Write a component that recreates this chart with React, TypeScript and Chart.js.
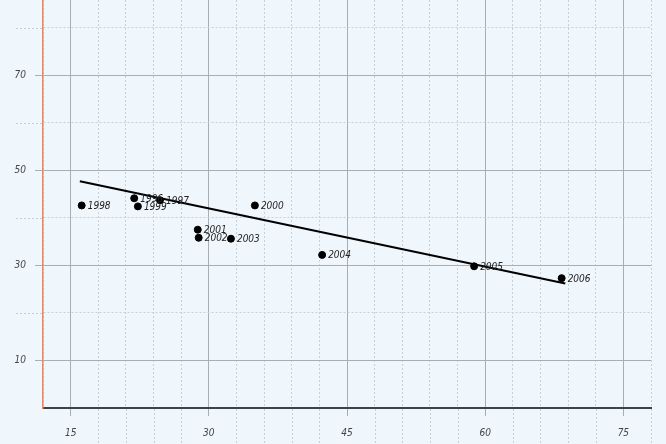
import React, { useEffect, useRef } from "react";
import { Chart, registerables } from "chart.js";

Chart.register(...registerables);

const yearLabels = ["1998", "1996", "1999", "1997", "2000", "2001", "2002", "2003", "2004", "2005", "2006"];
const xValues = [16.2, 21.9, 22.3, 24.7, 35.0, 28.8, 28.9, 32.4, 42.3, 58.8, 68.3];
const yValues = [42.6, 44.1, 42.4, 43.7, 42.6, 37.5, 35.8, 35.6, 32.2, 29.8, 27.3];
const trendX = [16.0, 68.7];
const trendY = [47.7, 26.2];
const xTickLabels = [15, 30, 45, 60, 75];
const yTickLabels = [10, 30, 50, 70];

const FONT = "'Liberation Sans Narrow', 'DejaVu Sans Condensed', sans-serif";
const MAJOR = "#a7b0b0";
const MINOR = "#c6d0d8";
const DASH = [2, 2];

export default function App() {
  const ref = useRef<HTMLCanvasElement | null>(null);

  useEffect(() => {
    document.body.style.margin = "0";
    document.body.style.background = "#eff6fc";
    const canvas = ref.current;
    if (!canvas) return;

    const bgPlugin = {
      id: "bg",
      beforeDraw(chart: any) {
        const { ctx, width, height } = chart;
        ctx.save();
        ctx.fillStyle = "#eff6fc";
        ctx.fillRect(0, 0, width, height);
        ctx.restore();
      },
    };

    const minorExtPlugin = {
      id: "minorExt",
      beforeDatasetsDraw(chart: any) {
        const { ctx, chartArea, height } = chart;
        const xs = chart.scales.x;
        const ys = chart.scales.y;
        ctx.save();
        ctx.strokeStyle = MINOR;
        ctx.lineWidth = 1;
        ctx.setLineDash(DASH);
        xs.ticks.forEach((t: any) => {
          if (xTickLabels.includes(t.value) || t.value === xs.min) return;
          const px = Math.round(xs.getPixelForValue(t.value)) + 0.5;
          ctx.beginPath();
          ctx.moveTo(px, chartArea.bottom + 1);
          ctx.lineTo(px, height);
          ctx.stroke();
        });
        ys.ticks.forEach((t: any) => {
          if (yTickLabels.includes(t.value) || t.value === 0) return;
          const py = Math.round(ys.getPixelForValue(t.value)) + 0.5;
          ctx.beginPath();
          ctx.moveTo(16, py);
          ctx.lineTo(chartArea.left - 1, py);
          ctx.stroke();
        });
        ctx.restore();
      },
    };

    const labelPlugin = {
      id: "pointLabels",
      afterDatasetsDraw(chart: any) {
        const meta = chart.getDatasetMeta(0);
        const { ctx } = chart;
        ctx.save();
        ctx.font = `italic 10px ${FONT}`;
        ctx.fillStyle = "#222";
        ctx.textAlign = "left";
        ctx.textBaseline = "middle";
        meta.data.forEach((el: any, i: number) => {
          ctx.fillText(yearLabels[i], el.x + 6, el.y + 1);
        });
        ctx.restore();
      },
    };

    const chart = new Chart(canvas, {
      type: "scatter",
      data: {
        datasets: [
          {
            label: "points",
            data: xValues.map((x, i) => ({ x, y: yValues[i] })),
            backgroundColor: "#000",
            borderColor: "#000",
            pointRadius: 3.5,
            pointHoverRadius: 3.5,
            order: 1,
          },
          {
            label: "trend",
            data: trendX.map((x, i) => ({ x, y: trendY[i] })),
            showLine: true,
            borderColor: "#000",
            borderWidth: 2,
            pointRadius: 0,
            order: 2,
          } as any,
        ],
      },
      options: {
        responsive: false,
        animation: false,
        events: [],
        layout: { autoPadding: false, padding: { top: 0, right: 15, left: 0, bottom: 0 } },
        plugins: {
          legend: { display: false },
          tooltip: { enabled: false },
        },
        scales: {
          x: {
            type: "linear",
            min: 12,
            max: 78,
            afterFit(scale: any) {
              scale.height = 36;
            },
            ticks: {
              stepSize: 3,
              includeBounds: false,
              autoSkip: false,
              maxRotation: 0,
              padding: 11,
              color: "#444",
              font: { family: FONT, size: 10, style: "italic" },
              callback: (v: any) => (xTickLabels.includes(Number(v)) ? String(v) : ""),
            },
            grid: {
              color: (c: any) => (xTickLabels.includes(c.tick?.value) ? MAJOR : MINOR),
              tickColor: (c: any) => (xTickLabels.includes(c.tick?.value) ? MAJOR : "rgba(0,0,0,0)"),
              tickLength: 8,
              lineWidth: 1,
            },
            border: {
              color: "#3b4343",
              width: 2,
              dash: (c: any) => (c.tick && !xTickLabels.includes(c.tick.value) ? DASH : []),
            },
          },
          y: {
            type: "linear",
            min: 0,
            max: 85.8,
            afterFit(scale: any) {
              scale.width = 43;
              scale.paddingTop = 0;
            },
            ticks: {
              stepSize: 10,
              includeBounds: false,
              autoSkip: false,
              padding: 9,
              color: "#444",
              font: { family: FONT, size: 10, style: "italic" },
              callback: (v: any) => (yTickLabels.includes(Number(v)) ? String(v) : ""),
            },
            grid: {
              color: (c: any) => (yTickLabels.includes(c.tick?.value) ? MAJOR : MINOR),
              tickColor: (c: any) => (yTickLabels.includes(c.tick?.value) ? MAJOR : "rgba(0,0,0,0)"),
              tickLength: 8,
              lineWidth: 1,
            },
            border: {
              color: "#de8a6c",
              width: 1.5,
              dash: (c: any) => (c.tick && !yTickLabels.includes(c.tick.value) ? DASH : []),
            },
          },
        },
      },
      plugins: [bgPlugin, minorExtPlugin, labelPlugin],
    });

    return () => chart.destroy();
  }, []);

  return (
    <div style={{ width: 666, height: 444 }}>
      <canvas ref={ref} width={666} height={444} style={{ display: "block" }} />
    </div>
  );
}
